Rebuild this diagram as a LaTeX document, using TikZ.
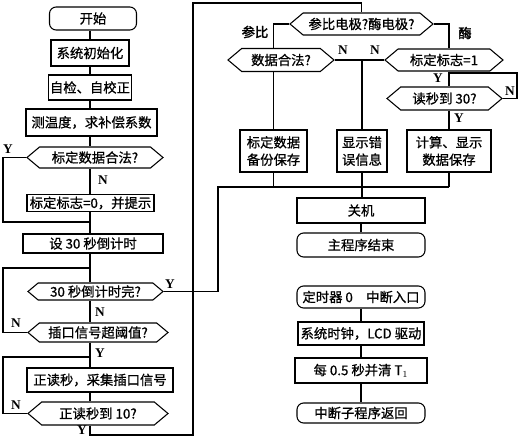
\documentclass[tikz,border=0pt]{standalone}
\usepackage{fontspec}
\setmainfont{Liberation Serif}
\newfontfamily\cjk{Noto Sans CJK SC}[FakeBold=0.8]
\newfontfamily\cjkb{Noto Sans CJK SC}[FakeBold=2]
\usetikzlibrary{shapes.symbols,positioning}

\begin{document}
\begin{tikzpicture}[x=0.75pt,y=-0.75pt,line width=0.8pt,
    blk/.style={draw,rectangle,inner sep=1pt,align=center,
                font=\cjk\fontsize{10}{13}\selectfont},
    term/.style={blk,rounded corners=5pt},
    dec/.style={blk,signal,signal to=east and west,signal pointer angle=80},
    sz/.style 2 args={minimum width=#1*0.75pt,minimum height=#2*0.75pt},
    yn/.style={font=\bfseries\fontsize{10}{10}\selectfont,inner sep=0pt},
    side/.style={font=\cjkb\fontsize{10}{10}\selectfont,inner sep=0pt}]
  \useasboundingbox (0,0) rectangle (521,438);

  % main program, left column
  \node[term,sz={87}{23}]  (start) at (93,18.5)   {开始};
  \node[blk,sz={78}{26}]   (init)  at (90,53)     {系统初始化};
  \node[blk,sz={78}{25}]   (self)  at (90,87.5)   {自检、自校正};
  \node[blk,sz={131}{27}]  (temp)  at (91.5,122.5){测温度，求补偿系数};
  \node[dec,sz={136}{21}]  (chk)   at (95,157.5)  {标定数据合法?};
  \node[blk,sz={127}{17}]  (flag0) at (90.5,203)  {标定标志=0，并提示};
  \node[blk,sz={140}{19}]  (cnt)   at (93,243.5)  {设 30 秒倒计时};
  \node[dec,sz={135}{17}]  (tout)  at (95.5,291.5){30 秒倒计时完?};
  \node[dec,sz={140}{19}]  (thr)   at (98,332.5)  {插口信号超阈值?};
  \node[blk,sz={146}{24}]  (rd)    at (100,380)   {正读秒，采集插口信号};
  \node[dec,sz={140}{23}]  (ten)   at (98,413.5)  {正读秒到 10?};

  % main program, right part
  \node[dec,sz={143}{22}]  (elec)  at (361.5,24)  {参比电极?酶电极?};
  \node[dec,sz={106}{23}]  (valid) at (281,60)    {数据合法?};
  \node[dec,sz={118}{22}]  (flag1) at (444,60)    {标定标志=1};
  \node[dec,sz={115}{23}]  (rd30)  at (444.5,98.5){读秒到 30?};
  \node[blk,sz={67}{42}]   (bak)   at (273.5,151) {标定数据\\备份保存};
  \node[blk,sz={50}{42}]   (err)   at (362,151)   {显示错\\误信息};
  \node[blk,sz={84}{42}]   (calc)  at (449,151)   {计算、显示\\数据保存};
  \node[blk,sz={128}{25}]  (off)   at (361,210.5) {关机};
  \node[term,sz={128}{24}] (fin)   at (361,245)   {主程序结束};

  % timer interrupt
  \node[term,sz={128}{22}] (isr)   at (361,297)   {定时器 0\quad 中断入口};
  \node[blk,sz={126}{23}]  (clk)   at (361,333.5) {系统时钟，LCD 驱动};
  \node[blk,sz={132}{25}]  (clr)   at (361,370.5) {每 0.5 秒并清 T$_1$};
  \node[term,sz={128}{20}] (ret)   at (361,413)   {中断子程序返回};

  % helper points
  \coordinate (sp) at (90,0);
  \coordinate (xl) at (3,0);
  \coordinate (jA) at (90,222);
  \coordinate (jB) at (90,268);
  \coordinate (jC) at (90,357);
  \coordinate (lp) at (193,435);
  \coordinate (tp) at (193,3);
  \coordinate (jm) at (218,187);
  \coordinate (rr) at (517,73);

  % spine
  \draw (start.south -| sp) -- (init.north -| sp);
  \draw (init.south -| sp)  -- (self.north -| sp);
  \draw (self.south -| sp)  -- (temp.north -| sp);
  \draw (temp.south -| sp)  -- (chk.north -| sp);
  \draw (chk.south -| sp)   -- (flag0.north -| sp);
  \draw (flag0.south -| sp) -- (cnt.north -| sp);
  \draw (cnt.south -| sp)   -- (tout.north -| sp);
  \draw (tout.south -| sp)  -- (thr.north -| sp);
  \draw (thr.south -| sp)   -- (rd.north -| sp);
  \draw (rd.south -| sp)    -- (ten.north -| sp);

  % loops back on the left
  \draw (chk.west) -| (xl |- jA) -- (jA);
  \draw (thr.west) -| (xl |- jB) -- (jB);
  \draw (ten.west) -| (xl |- jC) -- (jC);

  % to electrode test and timeout
  \draw (ten.south -| sp) |- (lp) -- (tp) -| (elec.north);
  \draw (tout.east) -| (jm) -- (calc.south |- jm);

  % right branches
  \draw (elec.west) -| (bak.north |- valid.north);
  \draw (valid.south -| bak.north) -- (bak.north);
  \draw (elec.east) -| (calc.north |- flag1.north);
  \draw (valid.east) -- (flag1.west);
  \draw (err.north |- valid.east) -- (err.north);
  \draw (calc.north |- flag1.south) -- (calc.north |- rd30.north);
  \draw (rd30.east) -| (rr) -- (calc.north |- rr);
  \draw (calc.north |- rd30.south) -- (calc.north);
  \draw (bak.south) -- (bak.south |- jm);
  \draw (calc.south) -- (calc.south |- jm);
  \draw (err.south) -- (err.south |- off.north);
  \draw (off) -- (fin);
  \draw (isr) -- (clk);
  \draw (clk) -- (clr);
  \draw (clr) -- (ret);

  % Y / N labels
  \node[yn] at (8,149)   {Y};
  \node[yn] at (103,180) {N};
  \node[yn] at (170,284) {Y};
  \node[yn] at (100,312) {N};
  \node[yn] at (16,323)  {N};
  \node[yn] at (100,353) {Y};
  \node[yn] at (16,405)  {N};
  \node[yn] at (82,430)  {Y};
  \node[yn] at (343,50)  {N};
  \node[yn] at (375,50)  {N};
  \node[yn] at (438,78)  {Y};
  \node[yn] at (510,91)  {N};
  \node[yn] at (459,118) {Y};
  \node[side] at (255,32) {参比};
  \node[side] at (465,33) {酶};
\end{tikzpicture}
\end{document}
